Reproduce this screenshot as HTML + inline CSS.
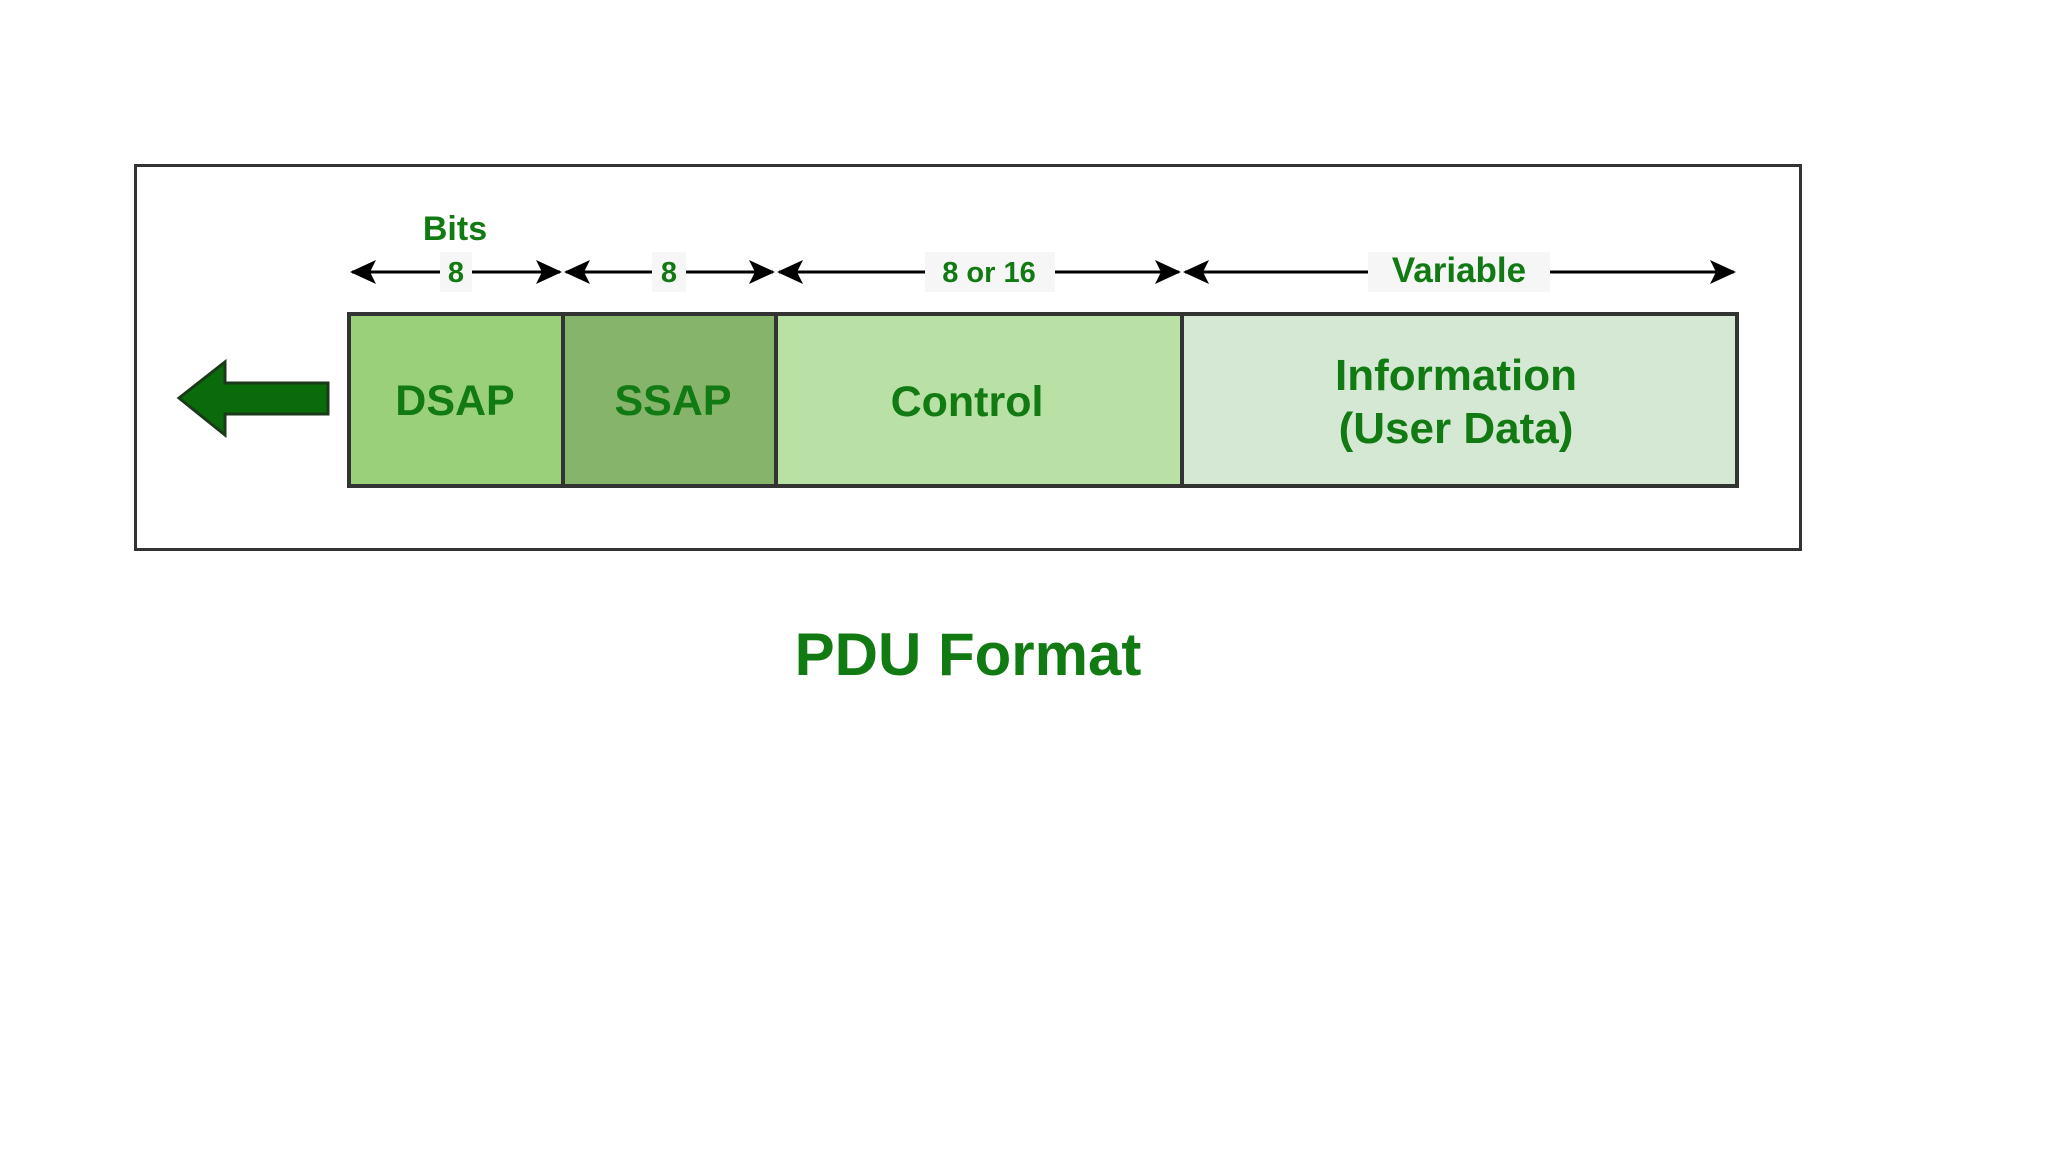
<!DOCTYPE html>
<html><head><meta charset="utf-8"><style>
html,body{margin:0;padding:0;background:#fff;}
svg{display:block;}
text{font-family:"Liberation Sans",Arial,sans-serif;font-weight:bold;fill:#127a12;}
</style></head><body>
<svg width="2048" height="1152" viewBox="0 0 2048 1152" xmlns="http://www.w3.org/2000/svg">
<rect x="0" y="0" width="2048" height="1152" fill="#fff"/>
<rect x="135.5" y="165.5" width="1665" height="384" fill="#fff" stroke="#333" stroke-width="3"/>
<rect x="349" y="314" width="214" height="172" fill="#9bd07a"/>
<rect x="563" y="314" width="213" height="172" fill="#86b46a"/>
<rect x="776" y="314" width="406" height="172" fill="#b9e0a5"/>
<rect x="1182" y="314" width="555" height="172" fill="#d5e8d4"/>
<rect x="349" y="314" width="1388" height="172" fill="none" stroke="#333" stroke-width="4"/>
<line x1="563" y1="314" x2="563" y2="486" stroke="#333" stroke-width="4"/>
<line x1="776" y1="314" x2="776" y2="486" stroke="#333" stroke-width="4"/>
<line x1="1182" y1="314" x2="1182" y2="486" stroke="#333" stroke-width="4"/>
<text x="455" y="415" font-size="43" text-anchor="middle">DSAP</text>
<text x="673" y="415" font-size="43" text-anchor="middle">SSAP</text>
<text x="967" y="416" font-size="43" text-anchor="middle">Control</text>
<text x="1456" y="390" font-size="44" text-anchor="middle">Information</text>
<text x="1456" y="443" font-size="44" text-anchor="middle">(User Data)</text>
<polygon points="179,398 225,362 225,383 328,383 328,414 225,414 225,435" fill="#0a6b0a" stroke="#1a3a1a" stroke-width="3"/>
<g stroke="#000" stroke-width="3" fill="none">
<line x1="352" y1="272" x2="560" y2="272"/>
<line x1="566" y1="272" x2="773" y2="272"/>
<line x1="779" y1="272" x2="1179" y2="272"/>
<line x1="1185" y1="272" x2="1734" y2="272"/>
</g>
<g fill="#000">
<polygon points="350,272 376,260 370,272 376,284"/>
<polygon points="562,272 536,260 542,272 536,284"/>
<polygon points="564,272 590,260 584,272 590,284"/>
<polygon points="775,272 749,260 755,272 749,284"/>
<polygon points="777,272 803,260 797,272 803,284"/>
<polygon points="1181,272 1155,260 1161,272 1155,284"/>
<polygon points="1183,272 1209,260 1203,272 1209,284"/>
<polygon points="1736,272 1710,260 1716,272 1710,284"/>
</g>
<rect x="440" y="252" width="32" height="40" fill="#f6f6f6"/>
<rect x="652" y="252" width="34" height="40" fill="#f6f6f6"/>
<rect x="925" y="252" width="130" height="40" fill="#f6f6f6"/>
<rect x="1368" y="252" width="182" height="40" fill="#f6f6f6"/>
<text x="456" y="282" font-size="29" text-anchor="middle">8</text>
<text x="669" y="282" font-size="29" text-anchor="middle">8</text>
<text x="989" y="282" font-size="29" text-anchor="middle">8 or 16</text>
<text x="1459" y="282" font-size="35" text-anchor="middle">Variable</text>
<text x="455" y="240" font-size="34" text-anchor="middle">Bits</text>
<text x="968" y="675" font-size="60" text-anchor="middle">PDU Format</text>
</svg>
</body></html>
